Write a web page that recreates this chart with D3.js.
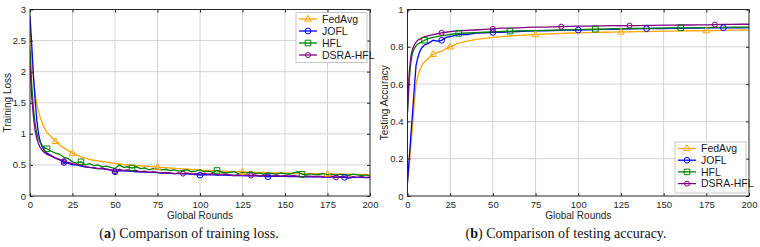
<!DOCTYPE html>
<html>
<head>
<meta charset="utf-8">
<script src="https://cdn.jsdelivr.net/npm/d3@7"></script>
<style>
  body { margin: 0; background: #fff; }
  svg { display: block; font-family: "Liberation Sans", Arial, sans-serif; }
</style>
</head>
<body>
<svg id="chart" width="760" height="247"></svg>
<script>
// rounds sampled for the loss curves
const lossRounds = [0,1,2,3,4,5,6,7,8,9,10,
  12.5,15,17.5,20,22.5,25,27.5,30,32.5,35,37.5,40,42.5,45,47.5,50,
  52.5,55,57.5,60,62.5,65,67.5,70,72.5,75,77.5,80,82.5,85,87.5,90,92.5,95,97.5,100,
  102.5,105,107.5,110,112.5,115,117.5,120,122.5,125,127.5,130,132.5,135,137.5,140,142.5,145,147.5,150,
  152.5,155,157.5,160,162.5,165,167.5,170,172.5,175,177.5,180,182.5,185,187.5,190,192.5,195,197.5,200];

const lossFedAvg = [2.8,2.25,1.9,1.65,1.48,1.36,1.27,1.19,1.12,1.07,1.02,
  0.95,0.88,0.82,0.77,0.73,0.69,0.66,0.63,0.61,0.59,0.575,0.565,0.555,0.545,0.535,0.525,
  0.515,0.505,0.5,0.495,0.49,0.485,0.48,0.475,0.47,0.465,0.46,0.455,0.45,0.445,0.44,0.435,0.43,0.425,0.42,0.415,
  0.41,0.41,0.405,0.405,0.4,0.4,0.395,0.395,0.39,0.39,0.385,0.385,0.38,0.38,0.378,0.375,0.373,0.37,0.37,0.368,
  0.366,0.365,0.364,0.362,0.36,0.36,0.358,0.357,0.356,0.355,0.354,0.353,0.352,0.35,0.35,0.348,0.347,0.346,0.345,0.343];
const lossJOFL = [2.9,2.45,1.95,1.55,1.22,1.0,0.88,0.8,0.75,0.72,0.69,
  0.65,0.61,0.58,0.54,0.53,0.5,0.5,0.48,0.47,0.46,0.455,0.44,0.435,0.43,0.42,0.39,
  0.41,0.405,0.4,0.395,0.39,0.39,0.385,0.38,0.38,0.375,0.37,0.37,0.365,0.36,0.36,0.355,0.355,0.35,0.345,0.335,
  0.345,0.34,0.34,0.338,0.336,0.335,0.333,0.33,0.33,0.328,0.326,0.325,0.323,0.322,0.32,0.31,0.32,0.318,0.316,0.315,
  0.314,0.313,0.312,0.31,0.31,0.309,0.308,0.307,0.306,0.305,0.304,0.303,0.302,0.3,0.29,0.3,0.299,0.298,0.297,0.296];
const lossHFL = [2.35,1.8,1.42,1.17,1.0,0.92,0.86,0.82,0.79,0.77,0.76,
  0.72,0.69,0.67,0.62,0.6,0.55,0.53,0.55,0.5,0.52,0.49,0.5,0.47,0.48,0.46,0.44,
  0.5,0.46,0.47,0.45,0.47,0.44,0.45,0.42,0.44,0.43,0.42,0.43,0.41,0.42,0.4,0.41,0.42,0.39,0.4,0.42,
  0.39,0.4,0.38,0.41,0.39,0.37,0.38,0.39,0.36,0.38,0.37,0.39,0.36,0.37,0.35,0.37,0.36,0.35,0.37,0.36,
  0.35,0.37,0.39,0.35,0.34,0.36,0.34,0.35,0.36,0.34,0.35,0.33,0.35,0.34,0.33,0.35,0.34,0.33,0.34,0.32];
const lossDSRA = [2.1,1.6,1.28,1.05,0.92,0.84,0.78,0.74,0.71,0.69,0.67,
  0.64,0.61,0.59,0.56,0.54,0.52,0.51,0.5,0.47,0.46,0.45,0.44,0.45,0.43,0.42,0.4,
  0.43,0.41,0.42,0.4,0.41,0.39,0.4,0.38,0.39,0.38,0.37,0.38,0.37,0.36,0.37,0.36,0.37,0.35,0.36,0.35,
  0.36,0.35,0.36,0.34,0.35,0.35,0.34,0.33,0.34,0.33,0.34,0.33,0.34,0.32,0.33,0.33,0.32,0.33,0.32,0.33,
  0.32,0.33,0.32,0.31,0.32,0.32,0.31,0.32,0.31,0.31,0.32,0.3,0.31,0.31,0.3,0.31,0.3,0.31,0.3,0.3];

// rounds sampled for the accuracy curves
const accRounds = [0,1,2,3,4,5,6,7,8,9,10,12.5,15,17.5,20,22.5,25,27.5,30,
  35,40,45,50,55,60,65,70,75,80,85,90,95,100,105,110,115,120,125,130,135,140,
  145,150,155,160,165,170,175,180,185,190,195,200];

const accFedAvg = [0.07,0.16,0.27,0.38,0.5,0.6,0.64,0.67,0.69,0.71,0.72,
  0.74,0.76,0.77,0.775,0.79,0.8,0.81,0.82,
  0.83,0.84,0.845,0.85,0.855,0.858,0.861,0.864,0.866,0.868,0.87,0.872,0.874,0.875,0.876,0.877,0.878,0.879,0.88,0.88,
  0.881,0.882,0.883,0.884,0.884,0.885,0.886,0.886,0.887,0.887,0.888,0.889,0.889,0.89];
const accJOFL = [0.07,0.2,0.33,0.45,0.58,0.7,0.74,0.77,0.79,0.8,0.81,
  0.82,0.835,0.83,0.835,0.85,0.855,0.86,0.865,
  0.865,0.873,0.875,0.877,0.878,0.88,0.882,0.884,0.885,0.886,0.887,0.888,0.889,0.89,0.891,0.892,0.893,0.894,0.895,0.896,
  0.897,0.897,0.898,0.898,0.899,0.899,0.9,0.9,0.901,0.901,0.902,0.902,0.902,0.903];
const accHFL = [0.45,0.62,0.72,0.77,0.79,0.805,0.815,0.82,0.825,0.83,0.835,
  0.845,0.85,0.855,0.86,0.863,0.866,0.869,0.872,
  0.874,0.876,0.878,0.88,0.882,0.884,0.885,0.886,0.887,0.888,0.889,0.89,0.891,0.892,0.893,0.894,0.895,0.896,0.897,0.898,
  0.898,0.899,0.9,0.9,0.901,0.902,0.902,0.903,0.903,0.904,0.904,0.905,0.905,0.906];
const accDSRA = [0.45,0.66,0.75,0.79,0.81,0.825,0.835,0.84,0.845,0.85,0.855,
  0.86,0.865,0.87,0.875,0.878,0.881,0.884,0.886,
  0.888,0.89,0.893,0.896,0.9,0.9,0.902,0.904,0.905,0.906,0.907,0.908,0.91,0.911,0.911,0.912,0.912,0.913,0.913,0.914,
  0.914,0.915,0.915,0.916,0.916,0.917,0.917,0.918,0.918,0.919,0.92,0.92,0.921,0.921];

const seriesNames = ["FedAvg", "JOFL", "HFL", "DSRA-HFL"];
const seriesColors = ["#ffa500", "#0000ff", "#008000", "#800080"];
const seriesShapes = ["triangle", "circle", "square", "hex"];
// rounds where a marker sits on each curve
const markerRounds = [[15,25,75,125,175], [20,50,100,140,185], [10,30,60,110,160], [20,50,90,130,180]];

const xTicks = [0,25,50,75,100,125,150,175,200];
const lossTicks = [0,0.5,1,1.5,2,2.5,3];
const accTicks = [0,0.2,0.4,0.6,0.8,1];

const svg = d3.select("#chart");

function markerPath(shape) {
  if (shape === "triangle") return "M0,-3.6L3.3,2.2L-3.3,2.2Z";
  if (shape === "square") return "M-2.8,-2.8H2.8V2.8H-2.8Z";
  if (shape === "hex") return d3.symbol(d3.symbolCircle, 20)();
  return d3.symbol(d3.symbolCircle, 26)();
}

function drawPanel(opts) {
  const { left, right, top, bottom, yDomain, yTicks, rounds, values, yLabel, legend, caption, capX } = opts;
  const x = d3.scaleLinear([0, 200], [left, right]);
  const y = d3.scaleLinear(yDomain, [bottom, top]);
  const g = svg.append("g");

  // grid
  g.append("g").selectAll("line").data(xTicks.slice(1, -1)).join("line")
    .attr("x1", d => x(d)).attr("x2", d => x(d)).attr("y1", top).attr("y2", bottom)
    .attr("stroke", "#d4d4d4").attr("stroke-width", 1);
  g.append("g").selectAll("line").data(yTicks.slice(1, -1)).join("line")
    .attr("y1", d => y(d)).attr("y2", d => y(d)).attr("x1", left).attr("x2", right)
    .attr("stroke", "#d4d4d4").attr("stroke-width", 1);

  // curves
  const line = d3.line().x((d, i) => x(rounds[i])).y(d => y(d));
  const clipId = "clip" + Math.round(left);
  g.append("clipPath").attr("id", clipId).append("rect")
    .attr("x", left).attr("y", top).attr("width", right - left).attr("height", bottom - top);
  const plot = g.append("g").attr("clip-path", `url(#${clipId})`);
  values.forEach((vals, s) => {
    plot.append("path").datum(vals)
      .attr("fill", "none").attr("stroke", seriesColors[s]).attr("stroke-width", 1.3)
      .attr("d", line);
  });
  values.forEach((vals, s) => {
    const pts = markerRounds[s].map(r => [r, vals[rounds.indexOf(r)]]);
    plot.selectAll(null).data(pts).join("path")
      .attr("transform", d => `translate(${x(d[0])},${y(d[1])})`)
      .attr("d", markerPath(seriesShapes[s]))
      .attr("fill", "none").attr("stroke", seriesColors[s]).attr("stroke-width", 1);
  });

  // axes (box with inward ticks)
  const ax = g.append("g").attr("font-size", 9.5).attr("fill", "#262626");
  ax.append("g").attr("transform", `translate(0,${bottom})`)
    .call(d3.axisBottom(x).tickValues(xTicks).tickSize(-3).tickPadding(5))
    .call(a => a.select(".domain").remove());
  ax.append("g").attr("transform", `translate(${left},0)`)
    .call(d3.axisLeft(y).tickValues(yTicks).tickSize(-3).tickPadding(4).tickFormat(d3.format("")))
    .call(a => a.select(".domain").remove());
  ax.append("g").attr("transform", `translate(0,${top})`)
    .call(d3.axisTop(x).tickValues(xTicks).tickSize(-3).tickFormat(""))
    .call(a => a.select(".domain").remove());
  ax.append("g").attr("transform", `translate(${right},0)`)
    .call(d3.axisRight(y).tickValues(yTicks).tickSize(-3).tickFormat(""))
    .call(a => a.select(".domain").remove());
  ax.selectAll(".tick line").attr("stroke", "#262626");
  ax.selectAll(".tick text").attr("fill", "#262626").attr("font-size", 9.5)
    .attr("font-family", "Liberation Sans, Arial, sans-serif");
  g.append("rect").attr("x", left).attr("y", top).attr("width", right - left).attr("height", bottom - top)
    .attr("fill", "none").attr("stroke", "#262626").attr("stroke-width", 1);

  // axis labels
  g.append("text").attr("x", (left + right) / 2).attr("y", 219)
    .attr("text-anchor", "middle").attr("font-size", 10).attr("fill", "#262626").text("Global Rounds");
  g.append("text").attr("transform", `translate(${left - 19.5},${(top + bottom) / 2}) rotate(-90)`)
    .attr("text-anchor", "middle").attr("font-size", 10).attr("fill", "#262626").text(yLabel);

  // legend
  const lg = g.append("g").attr("transform", `translate(${legend.x},${legend.y})`);
  lg.append("rect").attr("width", 71).attr("height", legend.h)
    .attr("fill", "#fff").attr("stroke", "#c8c8c8").attr("stroke-width", 1);
  seriesNames.forEach((name, s) => {
    const yy = 6.5 + s * legend.step;
    lg.append("line").attr("x1", 3).attr("x2", 21).attr("y1", yy).attr("y2", yy)
      .attr("stroke", seriesColors[s]).attr("stroke-width", 1.3);
    lg.append("path").attr("transform", `translate(12,${yy})`).attr("d", markerPath(seriesShapes[s]))
      .attr("fill", "none").attr("stroke", seriesColors[s]).attr("stroke-width", 1);
    lg.append("text").attr("x", 26).attr("y", yy + 3.8).attr("font-size", 10.5)
      .attr("fill", "#1a1a1a").text(name);
  });

  // caption
  const cap = svg.append("text").attr("x", capX).attr("y", 237.5)
    .attr("text-anchor", "middle").attr("font-family", "Liberation Serif, Times New Roman, serif")
    .attr("font-size", 14).attr("fill", "#111");
  cap.append("tspan").text("(");
  cap.append("tspan").attr("font-weight", "bold").text(caption[0]);
  cap.append("tspan").text(")" + caption[1]);
}

drawPanel({
  left: 30, right: 370, top: 9.5, bottom: 196,
  yDomain: [0, 3], yTicks: lossTicks, rounds: lossRounds,
  values: [lossFedAvg, lossJOFL, lossHFL, lossDSRA],
  yLabel: "Training Loss",
  legend: { x: 296, y: 12.5, h: 50, step: 12 },
  caption: ["a", " Comparison of training loss."], capX: 189
});

drawPanel({
  left: 407.5, right: 749, top: 9.5, bottom: 196,
  yDomain: [0, 1], yTicks: accTicks, rounds: accRounds,
  values: [accFedAvg, accJOFL, accHFL, accDSRA],
  yLabel: "Testing Accuracy",
  legend: { x: 675, y: 142, h: 51, step: 11.7 },
  caption: ["b", " Comparison of testing accuracy."], capX: 566
});
</script>
</body>
</html>
